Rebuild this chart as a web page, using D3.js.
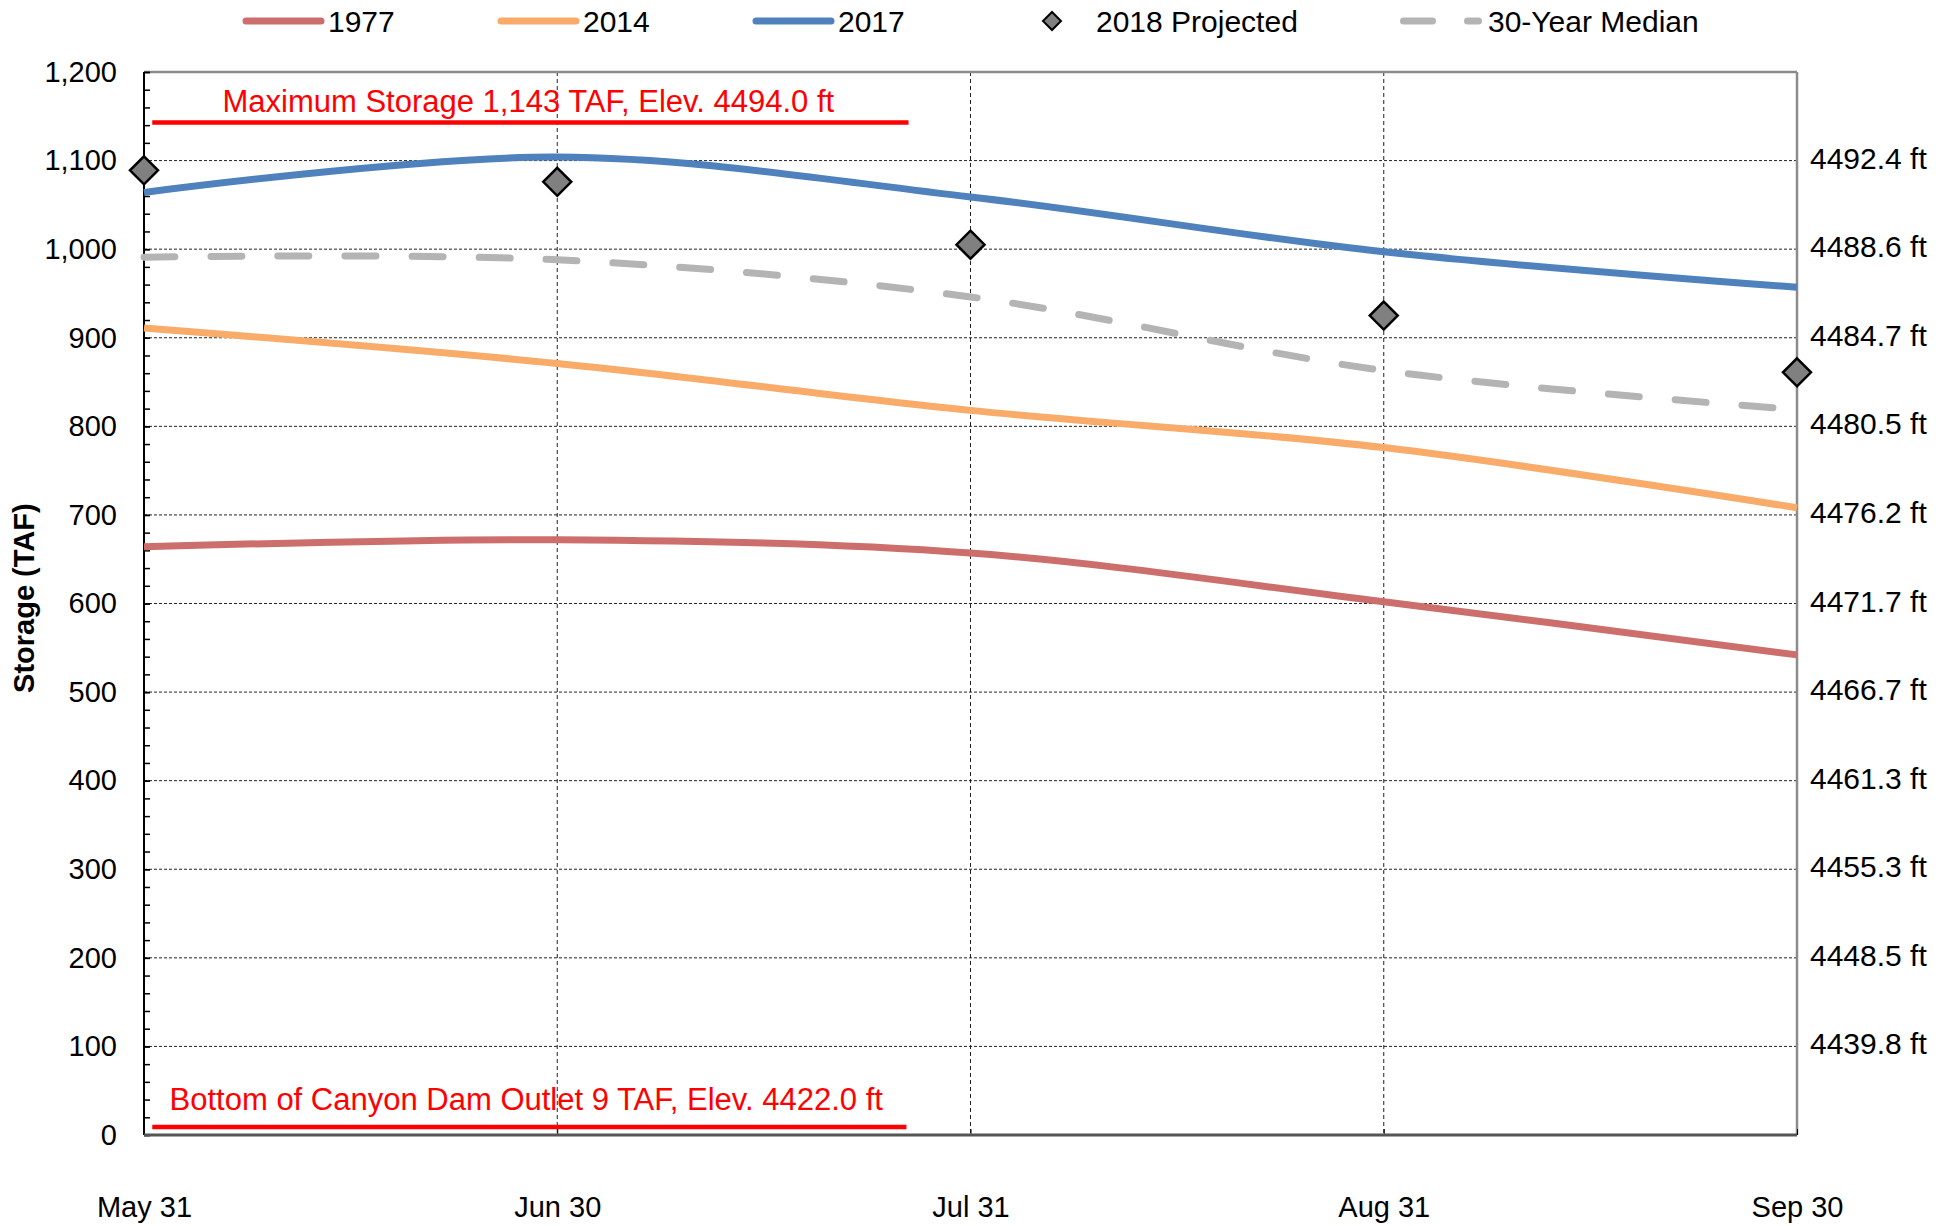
<!DOCTYPE html>
<html>
<head>
<meta charset="utf-8">
<script src="https://cdn.jsdelivr.net/npm/d3@7"></script>
<style>
  body { margin: 0; background: #fff; }
  svg { display: block; font-family: "Liberation Sans", Arial, sans-serif; }
  .grid-h line { stroke: #222; stroke-width: 1; stroke-dasharray: 3,2; }
  .grid-v line { stroke: #222; stroke-width: 1; stroke-dasharray: 4,3; }
  .axis path { display: none; }
  .axis text { font-size: 29px; fill: #000; }
  .y-right text { font-size: 30px; }
</style>
</head>
<body>
<div id="chart"></div>
<script>
// chart data
var dates = ["May 31", "Jun 30", "Jul 31", "Aug 31", "Sep 30"];
var s1977 = [664, 672, 657, 602, 542];
var s2014 = [911, 871, 818, 776, 708];
var s2017 = [1064, 1104, 1059, 997, 957];
var median30 = [991, 988, 946, 863, 819];
var proj2018 = [1089, 1076, 1005, 925, 861];

var yTicks = [0, 100, 200, 300, 400, 500, 600, 700, 800, 900, 1000, 1100, 1200];
var elevTicks = [100, 200, 300, 400, 500, 600, 700, 800, 900, 1000, 1100];
var elevLabels = ["4439.8 ft", "4448.5 ft", "4455.3 ft", "4461.3 ft", "4466.7 ft", "4471.7 ft",
                  "4476.2 ft", "4480.5 ft", "4484.7 ft", "4488.6 ft", "4492.4 ft"];

// reference lines: value and span in month index
var refLines = [
  {value: 1143, from: 0.02, to: 1.85, text: "Maximum Storage 1,143 TAF, Elev. 4494.0 ft", textAt: 0.93, dy: -10},
  {value: 9, from: 0.02, to: 1.845, text: "Bottom of Canyon Dam Outlet 9 TAF, Elev. 4422.0 ft", textAt: 0.925, dy: -17}
];

var W = 1957, H = 1226;
var margin = {top: 72, right: 160, bottom: 91, left: 144};
var width = W - margin.left - margin.right;   // 1653
var height = H - margin.top - margin.bottom;  // 1063

var svg = d3.select("#chart").append("svg")
    .attr("width", W)
    .attr("height", H);

var chart = svg.append("g")
    .attr("transform", "translate(" + margin.left + "," + margin.top + ")");

var x = d3.scaleLinear().domain([0, dates.length - 1]).range([0, width]);
var y = d3.scaleLinear().domain([0, 1200]).range([height, 0]);

// gridlines
chart.append("g")
    .attr("class", "grid-h")
    .selectAll("line")
    .data(yTicks.filter(function(d) { return d > 0 && d < 1200; }))
    .enter().append("line")
    .attr("x1", 0).attr("x2", width)
    .attr("y1", function(d) { return y(d); })
    .attr("y2", function(d) { return y(d); });

chart.append("g")
    .attr("class", "grid-v")
    .selectAll("line")
    .data([1, 2, 3])
    .enter().append("line")
    .attr("x1", function(d) { return x(d); })
    .attr("x2", function(d) { return x(d); })
    .attr("y1", 0).attr("y2", height);

// frame: top and right in gray
chart.append("line")
    .attr("x1", 0).attr("x2", width).attr("y1", 0).attr("y2", 0)
    .attr("stroke", "#8c8c8c").attr("stroke-width", 2.5);
chart.append("line")
    .attr("x1", width).attr("x2", width).attr("y1", 0).attr("y2", height)
    .attr("stroke", "#8c8c8c").attr("stroke-width", 2.5);

// left axis
chart.append("g")
    .attr("class", "axis y-axis")
    .call(d3.axisLeft(y).tickValues(yTicks).tickFormat(d3.format(",")).tickSize(-6).tickPadding(27))
    .selectAll("line").attr("stroke", "#000").attr("stroke-width", 1.5);

chart.append("g")
    .attr("class", "axis y-minor")
    .call(d3.axisLeft(y).tickValues(d3.range(0, 1201, 20)).tickFormat("").tickSize(-6))
    .selectAll("line").attr("stroke", "#000").attr("stroke-width", 1.5);

chart.append("line")
    .attr("x1", 0).attr("x2", 0).attr("y1", 0).attr("y2", height)
    .attr("stroke", "#000").attr("stroke-width", 2);

// right axis: elevation labels
chart.append("g")
    .attr("class", "axis y-right")
    .attr("transform", "translate(" + width + ",0)")
    .call(d3.axisRight(y).tickValues(elevTicks)
      .tickFormat(function(d, i) { return elevLabels[i]; })
      .tickSize(0).tickPadding(13))
    .selectAll("text").attr("dy", "0.25em");

// bottom axis
chart.append("g")
    .attr("class", "axis x-axis")
    .attr("transform", "translate(0," + height + ")")
    .call(d3.axisBottom(x).ticks(dates.length).tickValues(d3.range(dates.length))
      .tickFormat(function(d) { return dates[d]; })
      .tickSize(-6).tickPadding(61))
    .selectAll("line").attr("stroke", "#000");

chart.append("line")
    .attr("x1", 0).attr("x2", width).attr("y1", height).attr("y2", height)
    .attr("stroke", "#555").attr("stroke-width", 3);

// axis title
svg.append("text")
    .attr("transform", "translate(24," + (margin.top + height * 0.495) + ") rotate(-90)")
    .attr("text-anchor", "middle")
    .attr("dy", "0.35em")
    .style("font-size", "29px")
    .style("font-weight", "bold")
    .text("Storage (TAF)");

// red reference lines
var refs = chart.append("g").attr("class", "refs");
refs.selectAll("line")
    .data(refLines)
    .enter().append("line")
    .attr("x1", function(d) { return x(d.from); })
    .attr("x2", function(d) { return x(d.to); })
    .attr("y1", function(d) { return y(d.value); })
    .attr("y2", function(d) { return y(d.value); })
    .attr("stroke", "#ff0000")
    .attr("stroke-width", 4.5);

refs.selectAll("text")
    .data(refLines)
    .enter().append("text")
    .attr("x", function(d) { return x(d.textAt); })
    .attr("y", function(d) { return y(d.value) + d.dy; })
    .attr("text-anchor", "middle")
    .attr("fill", "#ff0000")
    .style("font-size", "31px")
    .text(function(d) { return d.text; });

// series
var line = d3.line()
    .x(function(d, i) { return x(i); })
    .y(function(d) { return y(d); })
    .curve(d3.curveCatmullRom.alpha(0.5));

var series = [
  {name: "30-Year Median", values: median30, colour: "#b4b4b4", dash: "31,36", cap: "round"},
  {name: "1977", values: s1977, colour: "#cc6f6c", dash: null, cap: "butt"},
  {name: "2014", values: s2014, colour: "#f9ac69", dash: null, cap: "butt"},
  {name: "2017", values: s2017, colour: "#4f81bd", dash: null, cap: "butt"}
];

chart.selectAll(".series")
    .data(series)
    .enter().append("path")
    .attr("class", "series")
    .attr("d", function(d) { return line(d.values); })
    .attr("fill", "none")
    .attr("stroke", function(d) { return d.colour; })
    .attr("stroke-width", 7)
    .attr("stroke-linecap", function(d) { return d.cap; })
    .attr("stroke-dasharray", function(d) { return d.dash; });

// projected points
function diamond(r) {
  return "M0," + (-r) + "L" + r + ",0L0," + r + "L" + (-r) + ",0Z";
}

chart.selectAll(".proj")
    .data(proj2018)
    .enter().append("path")
    .attr("class", "proj")
    .attr("transform", function(d, i) { return "translate(" + x(i) + "," + y(d) + ")"; })
    .attr("d", diamond(14))
    .attr("fill", "#808080")
    .attr("stroke", "#000")
    .attr("stroke-width", 2.5);

// legend
var legend = svg.append("g").attr("class", "legend");
var legendY = 21;
var legendItems = [
  {label: "1977", colour: "#cc6f6c", x: 246, textX: 328},
  {label: "2014", colour: "#f9ac69", x: 501, textX: 583},
  {label: "2017", colour: "#4f81bd", x: 756, textX: 838}
];

legendItems.forEach(function(d) {
  legend.append("line")
      .attr("x1", d.x).attr("x2", d.x + 75)
      .attr("y1", legendY).attr("y2", legendY)
      .attr("stroke", d.colour)
      .attr("stroke-width", 7)
      .attr("stroke-linecap", "round");
  legend.append("text")
      .attr("x", d.textX).attr("y", legendY)
      .attr("dy", "0.36em")
      .style("font-size", "30px")
      .text(d.label);
});

legend.append("path")
    .attr("transform", "translate(1052," + legendY + ")")
    .attr("d", diamond(9))
    .attr("fill", "#808080")
    .attr("stroke", "#000")
    .attr("stroke-width", 2);
legend.append("text")
    .attr("x", 1096).attr("y", legendY).attr("dy", "0.36em")
    .style("font-size", "30px")
    .text("2018 Projected");

legend.append("line")
    .attr("x1", 1403.5).attr("x2", 1478.5)
    .attr("y1", legendY).attr("y2", legendY)
    .attr("stroke", "#b4b4b4")
    .attr("stroke-width", 7)
    .attr("stroke-linecap", "round")
    .attr("stroke-dasharray", "29,35");
legend.append("text")
    .attr("x", 1488).attr("y", legendY).attr("dy", "0.36em")
    .style("font-size", "30px")
    .text("30-Year Median");
</script>
</body>
</html>
